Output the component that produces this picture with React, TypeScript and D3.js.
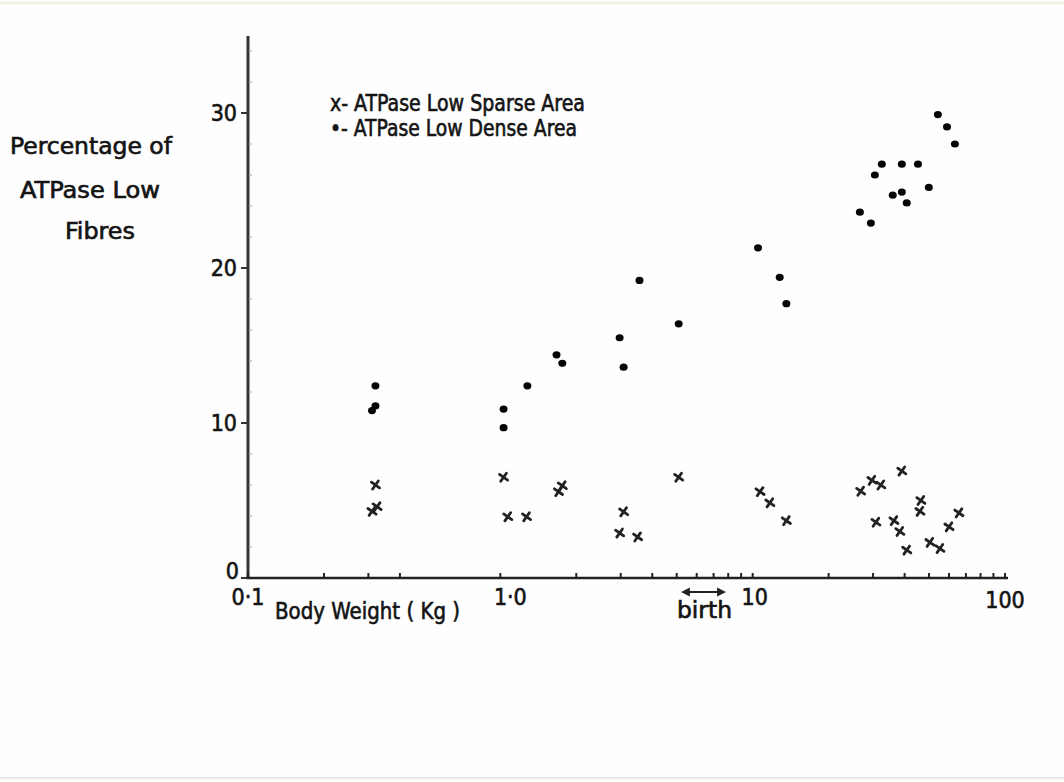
import React from 'react';
import * as d3 from 'd3';

// body weight (kg) and percentage of ATPase low fibres
const sparseWeight = [0.32, 0.31, 0.325, 1.03, 1.07, 1.27, 1.7, 1.76, 2.97, 3.08, 3.5, 5.09, 10.7, 11.7, 13.6, 26.8, 29.7, 30.8, 32.2, 36.3, 38.3, 39.0, 40.8, 46.0, 46.4, 50.4, 55.2, 60.0, 65.7];
const sparsePct = [6.0, 4.3, 4.6, 6.5, 3.95, 3.95, 5.57, 5.95, 2.9, 4.27, 2.65, 6.5, 5.57, 4.85, 3.7, 5.6, 6.3, 3.6, 6.0, 3.7, 3.0, 6.9, 1.8, 4.3, 5.0, 2.3, 1.9, 3.3, 4.2];

const denseWeight = [0.32, 0.31, 0.32, 1.03, 1.03, 1.28, 1.67, 1.76, 2.97, 3.08, 3.56, 5.09, 10.5, 12.8, 13.6, 26.6, 29.4, 30.5, 32.5, 35.9, 39.0, 39.0, 40.8, 45.2, 49.9, 54.2, 58.9, 63.3];
const densePct = [12.4, 10.8, 11.1, 10.9, 9.7, 12.4, 14.4, 13.85, 15.5, 13.6, 19.2, 16.4, 21.3, 19.4, 17.7, 23.6, 22.9, 26.0, 26.7, 24.7, 24.9, 26.7, 24.2, 26.7, 25.2, 29.9, 29.1, 28.0];

const yMajor = [0, 10, 20, 30];
const yMinor = [2, 4, 6, 8, 12, 14, 16, 18, 22, 24, 26, 28, 32, 34];
const xMajor = [0.1, 1, 10, 100];
const xMajorLabels = ['0·1', '1·0', '10', '100'];
const xMinor = [0.2, 0.3, 0.4, 2, 3, 4, 5, 6, 7, 8, 9, 20, 30, 40, 50, 60, 70, 80, 90];

const FONT = '"DejaVu Sans Condensed", "DejaVu Sans", sans-serif';
const INK = '#141414';

const App = () => {
  const x = d3.scaleLog().domain([0.1, 100]).range([248, 1005]);
  const y = d3.scaleLinear().domain([0, 30]).range([578, 113]);

  const cross = (cx: number, cy: number, i: number) => (
    <g key={'s' + i} transform={`translate(${cx},${cy}) rotate(-10)`} stroke="#222" strokeWidth={2.8} strokeLinecap="round">
      <line x1={-3.5} y1={-3.5} x2={3.5} y2={3.5} />
      <line x1={-3.5} y1={3.5} x2={3.5} y2={-3.5} />
    </g>
  );

  return (
    <svg width={1064} height={782} style={{ position: 'absolute', left: 0, top: 0, background: '#fff' }}>
      <rect x={0} y={0} width={1064} height={782} fill="#fefefe" />
      <line x1={0} y1={3} x2={1064} y2={3} stroke="#f2f0e2" strokeWidth={3} />
      <line x1={0} y1={778} x2={1064} y2={778} stroke="#e8e8e8" strokeWidth={2} />

      {/* axes */}
      <line x1={x(0.1)} y1={36} x2={x(0.1)} y2={y(0) + 1} stroke="#333" strokeWidth={3} />
      <line x1={x(0.1) - 2} y1={y(0)} x2={1008} y2={y(0)} stroke="#222" strokeWidth={2.5} />

      {yMajor.map(v => (
        <line key={'ym' + v} x1={x(0.1) - 7} x2={x(0.1)} y1={y(v)} y2={y(v)} stroke="#333" strokeWidth={2} />
      ))}
      {yMinor.map(v => (
        <line key={'yn' + v} x1={x(0.1) + 1} x2={x(0.1) + 4} y1={y(v)} y2={y(v)} stroke="#bbb" strokeWidth={1.5} />
      ))}
      {xMajor.concat(xMinor).map(v => (
        <line key={'xt' + v} x1={x(v)} x2={x(v)} y1={y(0)} y2={y(0) - 5} stroke="#222" strokeWidth={2} />
      ))}

      <g fontFamily={FONT} fontSize={23} fill={INK} stroke={INK} strokeWidth={0.6}>
        {yMajor.map(v => (
          <text key={'yl' + v} x={v === 0 ? 239 : 237} y={v === 0 ? y(v) - 7 : y(v)} textAnchor="end" dominantBaseline="central" fontSize={23}>{v}</text>
        ))}
        {xMajor.map((v, i) => (
          <text key={'xl' + v} x={x(v) + (i === 1 ? 10 : i === 2 ? 2 : 0)} y={y(0) + 27 + (i === 3 ? 3 : 0)} textAnchor="middle" fontSize={23}>{xMajorLabels[i]}</text>
        ))}
        <text x={275} y={619} textLength={185} lengthAdjust="spacingAndGlyphs">Body Weight ( Kg )</text>
        <text x={677} y={618} textLength={55} lengthAdjust="spacingAndGlyphs">birth</text>

        <text x={10} y={154} textLength={162} lengthAdjust="spacingAndGlyphs">Percentage of</text>
        <text x={20} y={198} textLength={140} lengthAdjust="spacingAndGlyphs">ATPase Low</text>
        <text x={65} y={239} textLength={70} lengthAdjust="spacingAndGlyphs">Fibres</text>

        <text x={330} y={111} textLength={255} lengthAdjust="spacingAndGlyphs">x- ATPase Low Sparse Area</text>
        <text x={330} y={136} textLength={247} lengthAdjust="spacingAndGlyphs">•- ATPase Low Dense Area</text>
      </g>

      {/* birth range arrow */}
      <g stroke="#222" strokeWidth={1.8} fill="#222">
        <line x1={684} y1={592} x2={723} y2={592} />
        <path d="M683,592 l6,-3 l0,6 z" />
        <path d="M724,592 l-6,-3 l0,6 z" />
      </g>

      {/* data */}
      {denseWeight.map((w, i) => (
        <ellipse key={'d' + i} cx={x(w)} cy={y(densePct[i])} rx={4} ry={3.6} fill="#050505" />
      ))}
      {sparseWeight.map((w, i) => cross(x(w), y(sparsePct[i]), i))}
    </svg>
  );
};

export default App;
